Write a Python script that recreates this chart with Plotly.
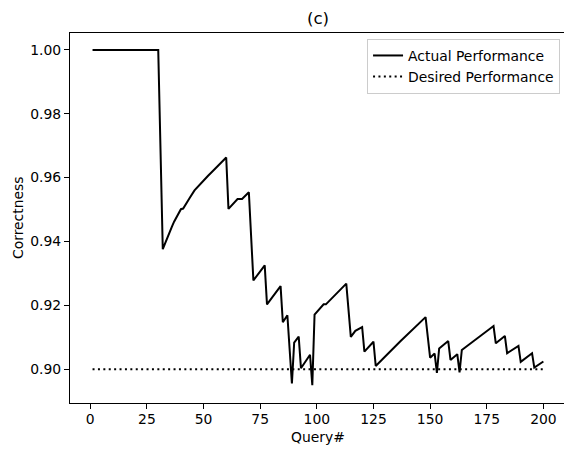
import plotly.graph_objects as go

# Data
query = [1, 30, 32, 33, 34, 35, 36, 37, 38, 39, 40, 41, 42, 44, 46, 48, 50, 52, 54, 56, 58, 60,
         61, 65, 67, 70, 72, 77, 78, 84, 85, 87, 89, 90, 92, 93, 97, 98, 99, 103, 104, 108, 113,
         115, 117, 120, 121, 125, 126, 137, 148, 150, 152, 153, 154, 158, 159, 162, 163, 164,
         171, 178, 179, 183, 184, 189, 190, 195, 196, 200]
actual = [1.0, 1.0, 0.9376, 0.9395, 0.9414, 0.9430, 0.9446, 0.9462, 0.9476, 0.9490, 0.9501, 0.9503,
          0.9516, 0.9538, 0.9560, 0.9576, 0.9592, 0.9606, 0.9620, 0.9635, 0.9650, 0.9663,
          0.9502, 0.9533, 0.9533, 0.9554, 0.9278, 0.9325, 0.9203, 0.9260, 0.9147, 0.9169, 0.8955,
          0.9083, 0.9102, 0.9003, 0.9045, 0.8950, 0.9171, 0.9203, 0.9203, 0.9232, 0.9268,
          0.9101, 0.9120, 0.9132, 0.9055, 0.9086, 0.9010, 0.9088, 0.9163, 0.9036, 0.9049, 0.8988,
          0.9065, 0.9088, 0.9029, 0.9047, 0.8990, 0.9060, 0.9098, 0.9135, 0.9081, 0.9104, 0.9050,
          0.9073, 0.9023, 0.9050, 0.9005, 0.9024]
desired_x = [1, 200]
desired = [0.9, 0.9]

x_ticks = [0, 25, 50, 75, 100, 125, 150, 175, 200]
y_ticks = [0.90, 0.92, 0.94, 0.96, 0.98, 1.00]
y_tick_text = ["0.90", "0.92", "0.94", "0.96", "0.98", "1.00"]

FONT = "DejaVu Sans"
W, H = 564, 451
L, T, B = 70, 33, 48
plot_w = W - L
px_per_unit = 2.2655

fig = go.Figure()
fig.add_trace(go.Scatter(x=query, y=actual, mode="lines", name="Actual Performance",
                         line=dict(color="black", width=2)))
fig.add_trace(go.Scatter(x=desired_x, y=desired, mode="lines", name="Desired Performance",
                         line=dict(color="black", width=2, dash="2px,3.4px")))

fig.update_layout(
    width=W, height=H,
    margin=dict(l=L, r=0, t=T, b=B),
    plot_bgcolor="white", paper_bgcolor="white",
    font=dict(family=FONT, size=13.9, color="black"),
    showlegend=True,
    legend=dict(x=0.992, y=0.984, xanchor="right", yanchor="top",
                bgcolor="rgba(255,255,255,0.8)", bordercolor="#cccccc", borderwidth=1,
                font=dict(family=FONT, size=13.9), tracegroupgap=0, itemwidth=30),
    xaxis=dict(range=[-8.95, -8.95 + plot_w / px_per_unit], tickvals=x_ticks,
               showgrid=False, zeroline=False, showline=True, mirror=True,
               linecolor="black", linewidth=1.1, ticks="outside", ticklen=5,
               tickwidth=1.1, tickcolor="black", ticklabelstandoff=-2),
    yaxis=dict(range=[0.8894, 1.0053], tickvals=y_ticks, ticktext=y_tick_text,
               showgrid=False, zeroline=False, showline=True, mirror=False,
               linecolor="black", linewidth=1.1, ticks="outside", ticklen=5,
               tickwidth=1.1, tickcolor="black"),
    title=dict(text="(c)", x=318 / W, xref="container", xanchor="center",
               y=1 - 18 / H, yref="container", yanchor="middle",
               font=dict(family=FONT, size=16.7, color="black")),
    annotations=[
        dict(text="Query#", xref="paper", yref="paper", x=(318 - L) / plot_w,
             y=-(437 - (H - B)) / (H - T - B), xanchor="center", yanchor="middle",
             showarrow=False, font=dict(family=FONT, size=13.9, color="black")),
        dict(text="Correctness", xref="paper", yref="paper", x=-(L - 18) / plot_w,
             y=0.5, xanchor="center", yanchor="middle", textangle=-90,
             showarrow=False, font=dict(family=FONT, size=13.9, color="black")),
    ],
)

fig.write_html("out.html")
